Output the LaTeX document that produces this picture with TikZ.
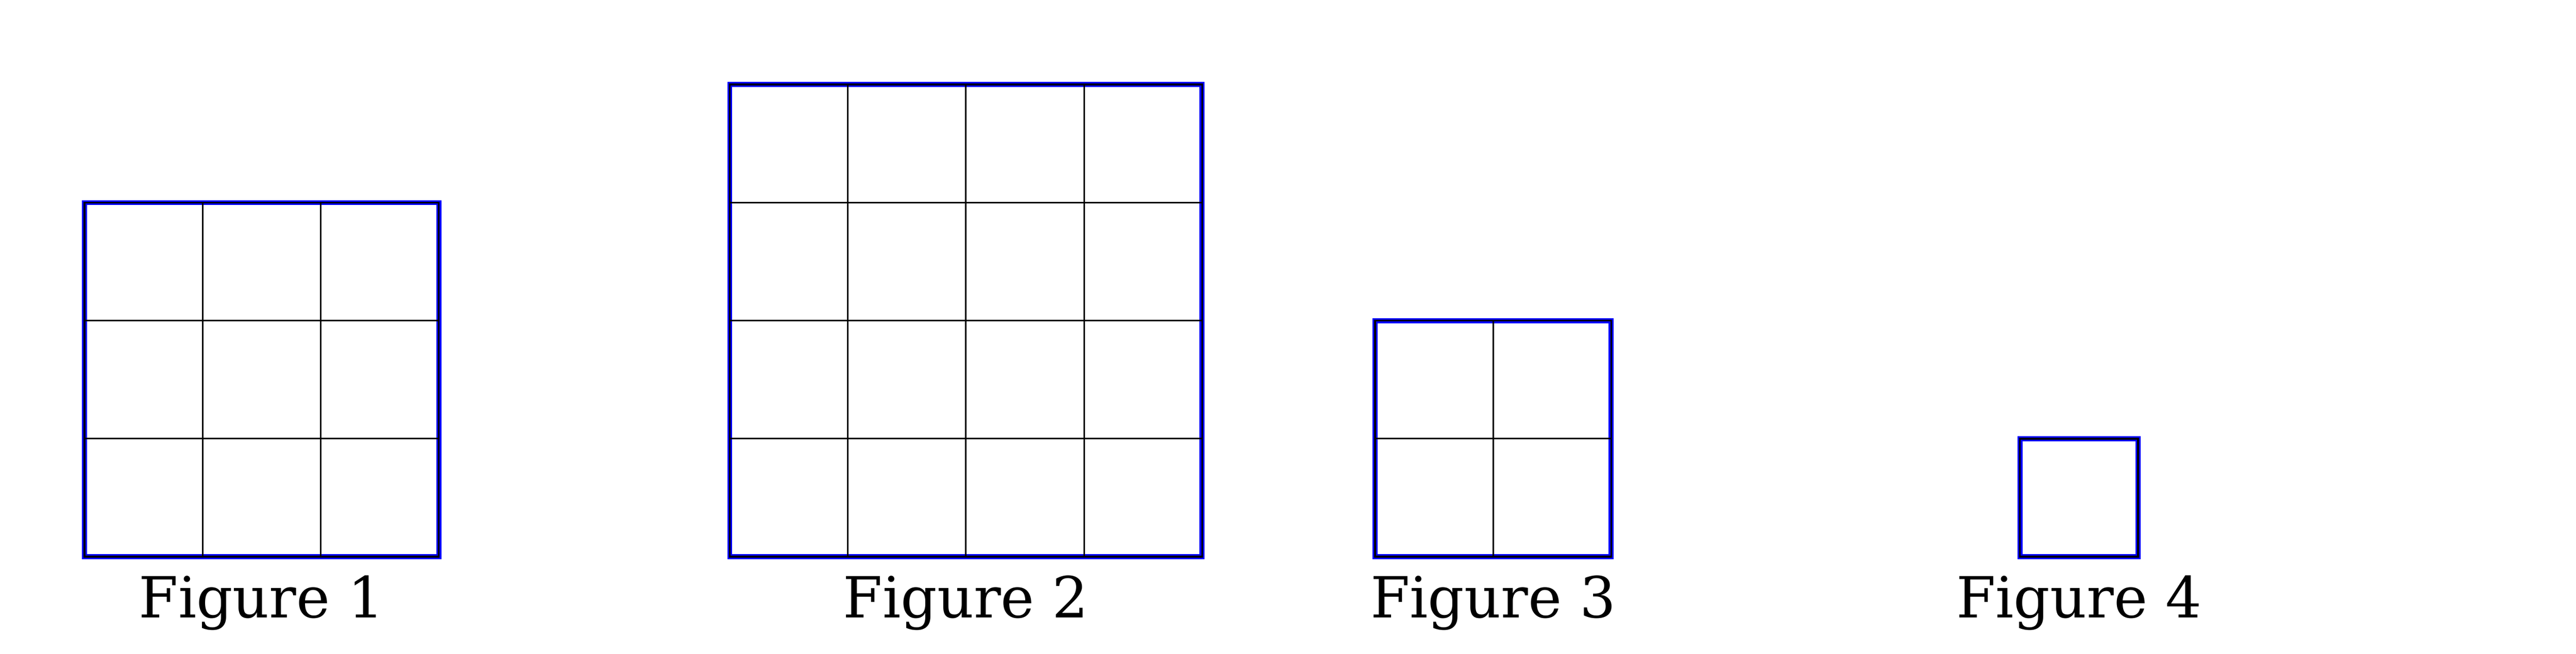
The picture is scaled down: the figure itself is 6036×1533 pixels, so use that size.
\documentclass[tikz,border=0pt]{standalone}
\usepackage{fontspec}
\setmainfont{DejaVu Serif}
\definecolor{pureblue}{RGB}{0,0,255}
\tikzset{
  boxblue/.style={draw=pureblue, line width=1.2pt},
  gridline/.style={draw=black, line width=0.36pt},
  borderline/.style={draw=black, line width=0.43pt},
  caption/.style={anchor=base, inner sep=0pt, font=\fontsize{13.3}{16}\selectfont}
}
\begin{document}
\begin{tikzpicture}[x=0.1pt,y=-0.1pt]
\useasboundingbox (0,0) rectangle (6036,1533);
\def\c{276.7}
% Figure 1 (3x3)
\draw[boxblue] (198,475) rectangle (1028,1305);
\foreach \i in {1,2}{
  \draw[gridline] (198+\i*\c,475) -- (198+\i*\c,1305);
  \draw[gridline] (198,475+\i*\c) -- (1028,475+\i*\c);
}
\draw[borderline] (198,475) rectangle (1028,1305);
\node[caption] (cap1) at (613,1448) {Figure 1};
% Figure 2 (4x4)
\draw[boxblue] (1710,198.2) rectangle (2816.8,1305);
\foreach \i in {1,2,3}{
  \draw[gridline] (1710+\i*\c,198.2) -- (1710+\i*\c,1305);
  \draw[gridline] (1710,198.2+\i*\c) -- (2816.8,198.2+\i*\c);
}
\draw[borderline] (1710,198.2) rectangle (2816.8,1305);
\node[caption] (cap2) at (2263.4,1448) {Figure 2};
% Figure 3 (2x2)
\draw[boxblue] (3222,751.6) rectangle (3775.4,1305);
\draw[gridline] (3222+\c,751.6) -- (3222+\c,1305);
\draw[gridline] (3222,751.6+\c) -- (3775.4,751.6+\c);
\draw[borderline] (3222,751.6) rectangle (3775.4,1305);
\node[caption] (cap3) at (3498.7,1448) {Figure 3};
% Figure 4 (1x1)
\draw[boxblue] (4733,1028.3) rectangle (5009.7,1305);
\draw[borderline] (4733,1028.3) rectangle (5009.7,1305);
\node[caption] (cap4) at (4871.35,1448) {Figure 4};
\end{tikzpicture}
\end{document}
